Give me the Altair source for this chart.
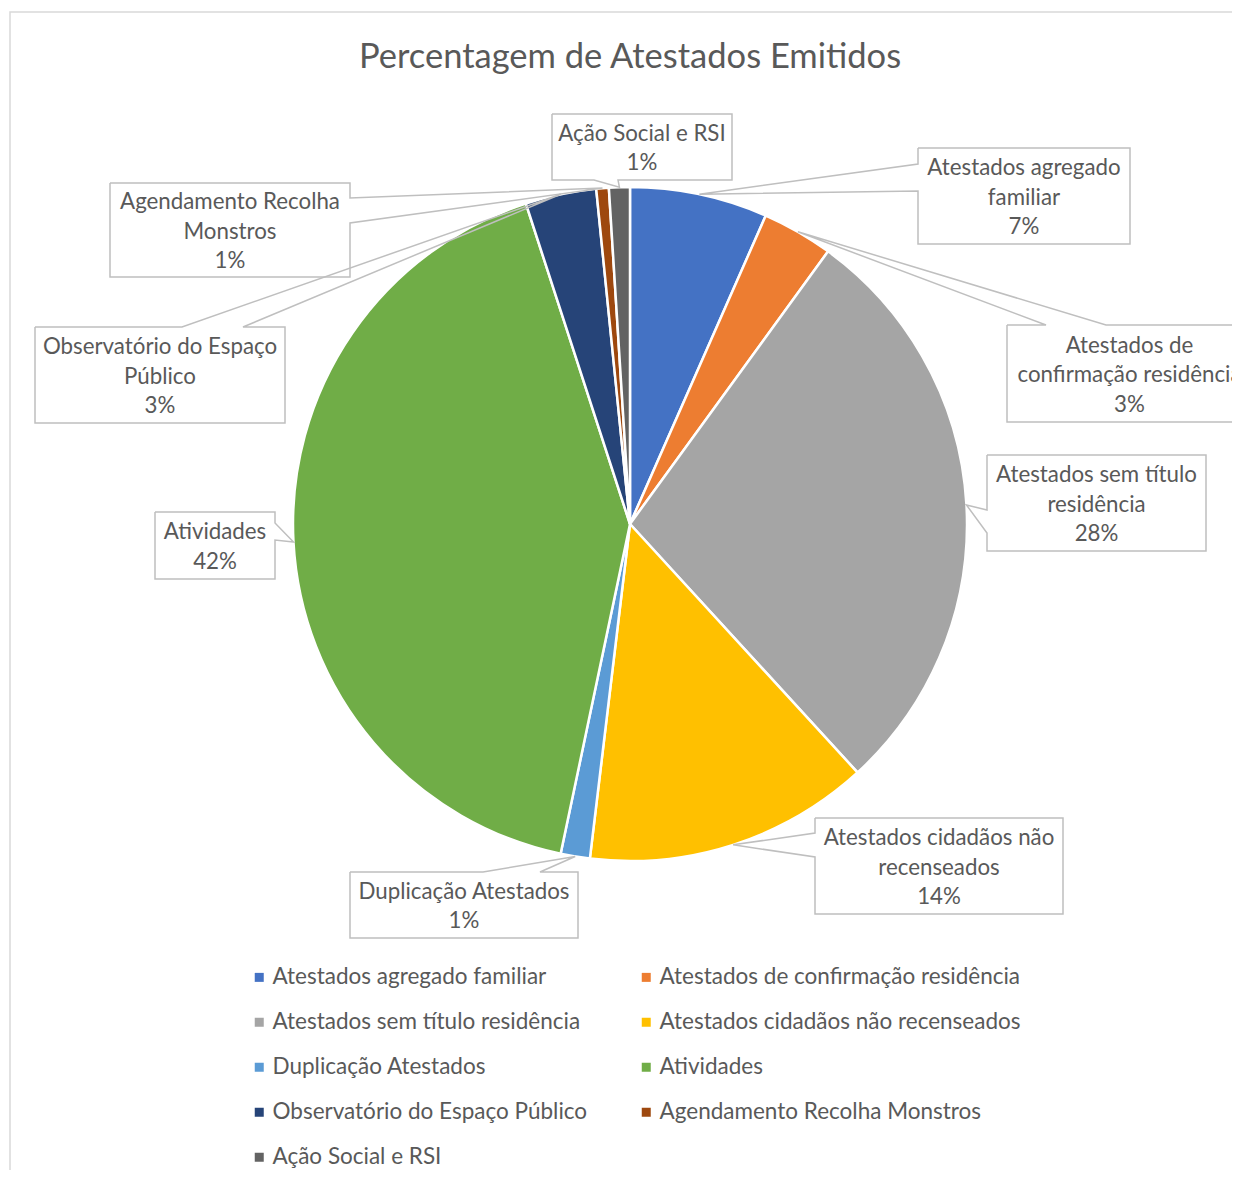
import math
import altair as alt
import pandas as pd

# ---------------- data ----------------
categories = [
    "Atestados agregado familiar",
    "Atestados de confirmação residência",
    "Atestados sem título residência",
    "Atestados cidadãos não recenseados",
    "Duplicação Atestados",
    "Atividades",
    "Observatório do Espaço Público",
    "Agendamento Recolha Monstros",
    "Ação Social e RSI",
]
percentages = [6.6, 3.4, 28.2, 13.7, 1.4, 41.7, 3.4, 0.6, 1.0]
label_lines = [
    ["Atestados agregado", "familiar"],
    ["Atestados de", "confirmação residência"],
    ["Atestados sem título", "residência"],
    ["Atestados cidadãos não", "recenseados"],
    ["Duplicação Atestados"],
    ["Atividades"],
    ["Observatório do Espaço", "Público"],
    ["Agendamento Recolha", "Monstros"],
    ["Ação Social e RSI"],
]
colors = ["#4472C4", "#ED7D31", "#A5A5A5", "#FFC000", "#5B9BD5",
          "#70AD47", "#264478", "#9E480E", "#636363"]
chart_title = "Percentagem de Atestados Emitidos"

# ---------------- layout (page pixels) ----------------
W, H = 1224, 1162
OX, OY = 8, 8
CX, CY, R = 630, 524, 337
FONT = "Lato"
TXT = "#595959"
LINE = "#BFBFBF"
LH = 29.5

# callout boxes: x0, y0, x1, y1
boxes = [
    (918, 148, 1130, 244),
    (1007, 325, 1252, 422),
    (987, 455, 1206, 551),
    (815, 818, 1063, 914),
    (350, 872, 578, 938),
    (155, 512, 275, 579),
    (35, 327, 285, 423),
    (110, 183, 350, 277),
    (552, 114, 732, 180),
]
# pointer: edge, base a, base b
pointers = [
    ("left", 164, 191),
    ("top", 1046, 1106),
    ("left", 510, 533),
    ("left", 833, 857),
    ("top", 483, 540),
    ("right", 523, 540),
    ("top", 182, 243),
    ("right", 198, 223),
    ("bottom", 594, 618),
]

# ---------------- build tables ----------------
pie_df = pd.DataFrame({"cat": categories, "v": percentages, "idx": list(range(len(categories)))})

total = sum(percentages)
cum = 0.0
poly_rows = []
text_rows = []
for i, (cat, v) in enumerate(zip(categories, percentages)):
    mid = 2 * math.pi * (cum + v / 2) / total
    cum += v
    tx = CX + R * math.sin(mid)
    ty = CY - R * math.cos(mid)
    x0, y0, x1, y1 = boxes[i]
    edge, a, b = pointers[i]
    pts = [(x0, y0)]
    if edge == "top":
        pts += [(a, y0), (tx, ty), (b, y0)]
    pts += [(x1, y0)]
    if edge == "right":
        pts += [(x1, a), (tx, ty), (x1, b)]
    pts += [(x1, y1)]
    if edge == "bottom":
        pts += [(b, y1), (tx, ty), (a, y1)]
    pts += [(x0, y1)]
    if edge == "left":
        pts += [(x0, b), (tx, ty), (x0, a)]
    pts += [(x0, y0)]
    for k, (px, py) in enumerate(pts):
        poly_rows.append({"id": i, "k": k, "px": px, "py": py})
    pct = f"{int(v + 0.5)}%"
    lines = label_lines[i] + [pct]
    text_rows.append({
        "px": (x0 + x1) / 2,
        "py": (y0 + y1) / 2 - (len(lines) - 1) * LH / 2 + 1.5,
        "t": "\n".join(lines),
    })

poly_df = pd.DataFrame(poly_rows)
text_df = pd.DataFrame(text_rows)
frame_df = pd.DataFrame({"px": [10], "py": [12], "px2": [1300], "py2": [1300]})
title_df = pd.DataFrame({"px": [630], "py": [58], "t": [chart_title]})

xs = alt.Scale(domain=[OX, OX + W], nice=False, zero=False)
ys = alt.Scale(domain=[OY, OY + H], nice=False, zero=False, reverse=True)

frame = alt.Chart(frame_df).mark_rect(
    fillOpacity=0, stroke="#D9D9D9", strokeWidth=1.5
).encode(
    x=alt.X("px:Q", scale=xs, axis=None),
    y=alt.Y("py:Q", scale=ys, axis=None),
    x2="px2:Q", y2="py2:Q",
)

pie = alt.Chart(pie_df).mark_arc(
    radius=R, stroke="white", strokeWidth=2.5
).encode(
    theta=alt.Theta("v:Q", stack=True),
    order=alt.Order("idx:Q"),
    color=alt.Color(
        "cat:N",
        sort=categories,
        scale=alt.Scale(domain=categories, range=colors),
        legend=alt.Legend(
            title=None, orient="none", legendX=240, legendY=958,
            direction="horizontal", columns=2, columnPadding=47, rowPadding=22,
            symbolType="square", symbolSize=81, symbolStrokeWidth=0,
            labelFont=FONT, labelFontSize=22.5, labelColor=TXT,
            labelOffset=2, labelLimit=600,
        ),
    ),
    x=alt.value(CX - OX),
    y=alt.value(CY - OY),
)

callouts = alt.Chart(poly_df).mark_line(
    stroke=LINE, strokeWidth=1.5
).encode(
    x=alt.X("px:Q", scale=xs, axis=None),
    y=alt.Y("py:Q", scale=ys, axis=None),
    detail="id:N",
    order="k:Q",
)

labels = alt.Chart(text_df).mark_text(
    font=FONT, fontSize=22.3, color=TXT, lineBreak="\n", lineHeight=LH,
    align="center", baseline="middle",
).encode(
    x=alt.X("px:Q", scale=xs, axis=None),
    y=alt.Y("py:Q", scale=ys, axis=None),
    text="t:N",
)

title = alt.Chart(title_df).mark_text(
    font=FONT, fontSize=34.5, color=TXT, align="center", baseline="middle",
).encode(
    x=alt.X("px:Q", scale=xs, axis=None),
    y=alt.Y("py:Q", scale=ys, axis=None),
    text="t:N",
)

chart = alt.layer(frame, pie, callouts, labels, title).properties(
    width=W, height=H, padding=0, autosize=alt.AutoSizeParams(type="none"),
    background="white",
).configure_view(strokeWidth=0)

chart.save("out.html", embed_options={"renderer": "svg", "actions": False})
